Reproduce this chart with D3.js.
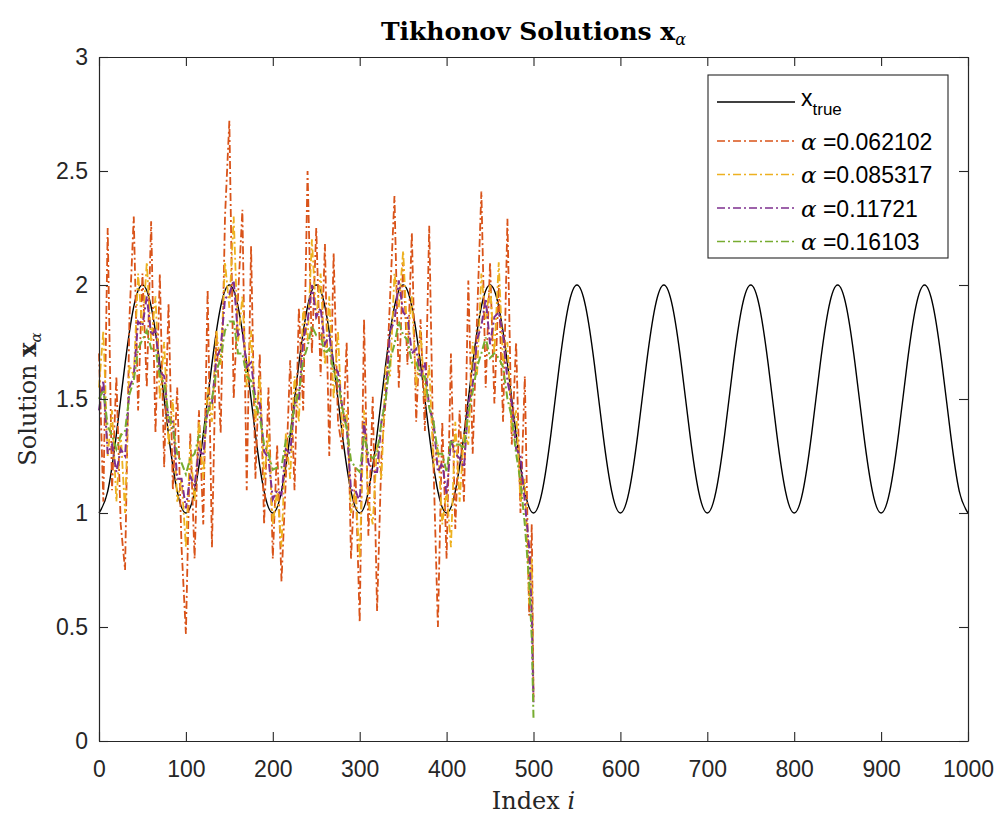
<!DOCTYPE html>
<html>
<head>
<meta charset="utf-8">
<script src="https://cdn.jsdelivr.net/npm/d3@7/dist/d3.min.js"></script>
<style>
  body { margin: 0; background: #fff; }
  svg { display: block; }
</style>
</head>
<body>
<svg></svg>
<script>
//Data
const xTicks = [0, 100, 200, 300, 400, 500, 600, 700, 800, 900, 1000];
const xTickLabels = ["0", "100", "200", "300", "400", "500", "600", "700", "800", "900", "1000"];
const yTicks = [0, 0.5, 1, 1.5, 2, 2.5, 3];
const yTickLabels = ["0", "0.5", "1", "1.5", "2", "2.5", "3"];

//x_true, every 10 indices from 0 to 1000
const trueIndex = d3.range(0, 1001, 10);
const trueValues = [
  1.000, 1.095, 1.345, 1.655, 1.905, 2.000, 1.905, 1.655, 1.345, 1.095,
  1.000, 1.095, 1.345, 1.655, 1.905, 2.000, 1.905, 1.655, 1.345, 1.095,
  1.000, 1.095, 1.345, 1.655, 1.905, 2.000, 1.905, 1.655, 1.345, 1.095,
  1.000, 1.095, 1.345, 1.655, 1.905, 2.000, 1.905, 1.655, 1.345, 1.095,
  1.000, 1.095, 1.345, 1.655, 1.905, 2.000, 1.905, 1.655, 1.345, 1.095,
  1.000, 1.095, 1.345, 1.655, 1.905, 2.000, 1.905, 1.655, 1.345, 1.095,
  1.000, 1.095, 1.345, 1.655, 1.905, 2.000, 1.905, 1.655, 1.345, 1.095,
  1.000, 1.095, 1.345, 1.655, 1.905, 2.000, 1.905, 1.655, 1.345, 1.095,
  1.000, 1.095, 1.345, 1.655, 1.905, 2.000, 1.905, 1.655, 1.345, 1.095,
  1.000, 1.095, 1.345, 1.655, 1.905, 2.000, 1.905, 1.655, 1.345, 1.095,
  1.000
];

//Tikhonov solutions, every 5 indices from 0 to 495, then 498 and 500
const solIndex = d3.range(0, 500, 5).concat([498, 500]);

const alphaRed = [ //alpha = 0.062102
  1.70, 1.05, 2.25, 1.10, 1.60, 0.95, 0.75, 1.85, 2.30, 1.45,
  2.05, 1.55, 2.28, 1.35, 2.05, 1.20, 1.92, 1.10, 1.55, 0.85,
  0.47, 1.35, 0.80, 1.45, 0.95, 1.98, 0.85, 1.80, 1.35, 2.30,
  2.72, 1.50, 1.95, 2.33, 1.10, 2.17, 1.15, 1.70, 0.95, 1.55,
  0.80, 1.30, 0.70, 1.15, 1.67, 1.10, 1.90, 1.45, 2.50, 1.70,
  2.25, 1.60, 2.18, 1.25, 2.14, 1.40, 1.28, 1.75, 0.80, 1.20,
  0.52, 1.85, 0.90, 1.51, 0.57, 1.25, 1.50, 1.95, 2.39, 1.55,
  2.10, 1.65, 2.23, 1.40, 1.85, 1.36, 2.26, 1.20, 0.50, 1.40,
  0.80, 1.70, 0.93, 1.45, 1.05, 2.02, 1.26, 1.85, 2.41, 1.55,
  2.10, 1.48, 2.00, 1.40, 2.29, 1.30, 1.75, 1.00, 1.60, 0.55,
  0.95, 0.18
];

const alphaYellow = [ //alpha = 0.085317
  1.55, 1.80, 1.25, 1.45, 1.05, 1.35, 1.00, 1.65, 1.60, 2.05,
  1.80, 2.10, 1.75, 1.95, 1.50, 1.75, 1.30, 1.50, 1.05, 1.15,
  0.85, 1.30, 1.05, 1.40, 1.15, 1.55, 1.40, 1.80, 1.65, 2.10,
  1.90, 2.30, 1.75, 1.95, 1.55, 1.80, 1.40, 1.60, 1.15, 1.35,
  0.95, 1.10, 0.85, 1.35, 1.15, 1.60, 1.40, 1.90, 1.75, 2.20,
  1.85, 2.05, 1.65, 1.95, 1.50, 1.80, 1.35, 1.45, 1.00, 1.10,
  0.80, 1.45, 1.05, 0.95, 1.30, 1.15, 1.65, 1.60, 2.05, 1.90,
  2.15, 1.75, 1.95, 1.55, 1.80, 1.50, 1.65, 1.20, 1.30, 0.95,
  1.10, 0.85, 1.40, 1.05, 1.35, 1.30, 1.75, 1.60, 2.05, 1.85,
  2.00, 1.70, 2.10, 1.65, 1.75, 1.35, 1.45, 1.05, 1.15, 0.60,
  0.80, 0.20
];

const alphaPurple = [ //alpha = 0.11721
  1.45, 1.58, 1.26, 1.30, 1.18, 1.28, 1.25, 1.55, 1.60, 1.84,
  1.82, 1.95, 1.78, 1.80, 1.62, 1.60, 1.40, 1.40, 1.15, 1.15,
  1.02, 1.16, 1.12, 1.28, 1.25, 1.46, 1.48, 1.68, 1.72, 1.94,
  1.96, 2.02, 1.78, 1.80, 1.64, 1.66, 1.50, 1.48, 1.27, 1.24,
  1.06, 1.10, 1.08, 1.28, 1.26, 1.48, 1.50, 1.76, 1.84, 2.00,
  1.86, 1.90, 1.74, 1.78, 1.64, 1.62, 1.46, 1.38, 1.10, 1.10,
  1.05, 1.40, 1.22, 1.18, 1.18, 1.40, 1.50, 1.80, 1.84, 2.02,
  1.88, 1.86, 1.70, 1.72, 1.60, 1.66, 1.46, 1.40, 1.18, 1.22,
  1.08, 1.32, 1.26, 1.24, 1.20, 1.48, 1.56, 1.76, 1.82, 1.94,
  1.74, 1.86, 1.88, 1.78, 1.58, 1.48, 1.28, 1.25, 1.05, 0.85,
  0.55, 0.17
];

const alphaGreen = [ //alpha = 0.16103
  1.50, 1.54, 1.38, 1.34, 1.28, 1.34, 1.36, 1.52, 1.58, 1.72,
  1.76, 1.80, 1.72, 1.72, 1.60, 1.57, 1.43, 1.37, 1.26, 1.22,
  1.17, 1.24, 1.26, 1.34, 1.34, 1.44, 1.50, 1.62, 1.68, 1.80,
  1.84, 1.84, 1.70, 1.70, 1.60, 1.58, 1.48, 1.42, 1.30, 1.26,
  1.19, 1.20, 1.20, 1.32, 1.34, 1.47, 1.53, 1.67, 1.73, 1.82,
  1.78, 1.78, 1.70, 1.72, 1.62, 1.58, 1.46, 1.37, 1.23, 1.20,
  1.18, 1.34, 1.26, 1.24, 1.26, 1.40, 1.50, 1.67, 1.74, 1.84,
  1.78, 1.76, 1.66, 1.66, 1.60, 1.60, 1.46, 1.40, 1.26, 1.26,
  1.18, 1.32, 1.30, 1.30, 1.28, 1.44, 1.53, 1.64, 1.70, 1.77,
  1.68, 1.70, 1.68, 1.64, 1.50, 1.42, 1.26, 1.14, 0.95, 0.70,
  0.45, 0.10
];

const alphaLabels = ["=0.062102", "=0.085317", "=0.11721", "=0.16103"];
const alphaSeries = [alphaRed, alphaYellow, alphaPurple, alphaGreen];
const alphaColors = ["#D95319", "#EDB120", "#7E2F8E", "#77AC30"];

drawChart();

function drawChart(){
  const w = 1000;
  const h = 814;
  const left = 99, right = 968, top = 57, bottom = 741;
  const axisColor = "#262626";
  const dash = "8,3,2,3";

  const svg = d3.select("svg")
                .attr("width", w)
                .attr("height", h)
                .style("font-family", "'Liberation Sans', Arial, sans-serif");

  //Scale Setup
  const xScale = d3.scaleLinear().domain([0, 1000]).range([left, right]);
  const yScale = d3.scaleLinear().domain([0, 3]).range([bottom, top]);

  //Lines
  const trueLine = d3.line()
                     .x((d, i) => xScale(trueIndex[i]))
                     .y(d => yScale(d))
                     .curve(d3.curveNatural);

  const solLine = d3.line()
                    .x((d, i) => xScale(solIndex[i]))
                    .y(d => yScale(d));

  svg.append("path")
     .datum(trueValues)
     .attr("d", trueLine)
     .attr("fill", "none")
     .attr("stroke", "#000")
     .attr("stroke-width", 1.4);

  alphaSeries.forEach((series, k) => {
    svg.append("path")
       .datum(series)
       .attr("d", solLine)
       .attr("fill", "none")
       .attr("stroke", alphaColors[k])
       .attr("stroke-width", k < 2 ? 1.8 : 2)
       .attr("stroke-dasharray", dash);
  });

  //Axis Setup (MATLAB style: ticks inward on all four sides)
  const xAxis = d3.axisBottom(xScale).tickValues(xTicks).tickFormat((d, i) => xTickLabels[i])
                  .tickSizeInner(-9).tickSizeOuter(0).tickPadding(20);
  const gx = svg.append("g").attr("transform", "translate(0," + bottom + ")").call(xAxis);

  const yAxis = d3.axisLeft(yScale).tickValues(yTicks).tickFormat((d, i) => yTickLabels[i])
                  .tickSizeInner(-9).tickSizeOuter(0).tickPadding(11);
  const gy = svg.append("g").attr("transform", "translate(" + left + ",0)").call(yAxis);

  const gxTop = svg.append("g").attr("transform", "translate(0," + top + ")")
                   .call(d3.axisTop(xScale).tickValues(xTicks).tickSizeInner(-9).tickSizeOuter(0).tickFormat(""));
  const gyRight = svg.append("g").attr("transform", "translate(" + right + ",0)")
                     .call(d3.axisRight(yScale).tickValues(yTicks).tickSizeInner(-9).tickSizeOuter(0).tickFormat(""));

  [gx, gy, gxTop, gyRight].forEach(g => {
    g.select(".domain").attr("stroke", axisColor).attr("stroke-width", 1.2);
    g.selectAll(".tick line").attr("stroke", axisColor).attr("stroke-width", 1.1);
    g.selectAll(".tick text")
     .attr("fill", axisColor)
     .style("font-size", "23px")
     .style("font-family", "'Liberation Sans', Arial, sans-serif");
  });

  //Labels Setup
  const serif = "'DejaVu Serif', 'Liberation Serif', serif";
  const cx = (left + right) / 2;

  const title = svg.append("text")
                   .attr("x", cx)
                   .attr("y", 40)
                   .attr("text-anchor", "middle")
                   .style("font-family", serif)
                   .style("font-weight", "bold")
                   .style("font-size", "25px")
                   .attr("fill", "#000");
  title.append("tspan").text("Tikhonov Solutions x");
  title.append("tspan").attr("dy", 5).style("font-size", "16px").style("font-weight", "normal")
       .style("font-style", "italic").text("α");

  const xLabel = svg.append("text")
                    .attr("x", cx)
                    .attr("y", 809)
                    .attr("text-anchor", "middle")
                    .style("font-family", serif)
                    .style("font-size", "24px")
                    .attr("fill", axisColor);
  xLabel.append("tspan").text("Index ");
  xLabel.append("tspan").style("font-style", "italic").text("i");

  const yLabel = svg.append("text")
                    .attr("transform", "translate(36," + ((top + bottom) / 2) + ") rotate(-90)")
                    .attr("text-anchor", "middle")
                    .style("font-family", serif)
                    .style("font-size", "24px")
                    .attr("fill", axisColor);
  yLabel.append("tspan").text("Solution ");
  yLabel.append("tspan").style("font-weight", "bold").text("x");
  yLabel.append("tspan").attr("dy", 5).style("font-size", "15px").style("font-style", "italic").text("α");

  //Legend Setup
  const lx = 708, ly = 75, lw = 240, lh = 183;
  const legend = svg.append("g");
  legend.append("rect")
        .attr("x", lx).attr("y", ly).attr("width", lw).attr("height", lh)
        .attr("fill", "#fff")
        .attr("stroke", axisColor)
        .attr("stroke-width", 1.1);

  const rowY = [102, 141, 174.5, 208, 241.5];
  const lineX1 = 717, lineX2 = 795, textX = 801;

  legend.append("line")
        .attr("x1", lineX1).attr("x2", lineX2)
        .attr("y1", rowY[0]).attr("y2", rowY[0])
        .attr("stroke", "#000").attr("stroke-width", 1.4);
  const tTrue = legend.append("text")
                      .attr("x", textX).attr("y", rowY[0] + 4)
                      .style("font-size", "23px").attr("fill", "#000");
  tTrue.append("tspan").text("x");
  tTrue.append("tspan").attr("dy", 9).style("font-size", "17px").text("true");

  alphaLabels.forEach((label, k) => {
    const y = rowY[k + 1];
    legend.append("line")
          .attr("x1", lineX1).attr("x2", lineX2)
          .attr("y1", y).attr("y2", y)
          .attr("stroke", alphaColors[k])
          .attr("stroke-width", 1.5)
          .attr("stroke-dasharray", dash);
    const t = legend.append("text")
                    .attr("x", textX).attr("y", y + 8.5)
                    .style("font-size", "23px").attr("fill", "#000");
    t.append("tspan").style("font-family", serif).style("font-style", "italic").text("α");
    t.append("tspan").text(" " + label);
  });
};
</script>
</body>
</html>
